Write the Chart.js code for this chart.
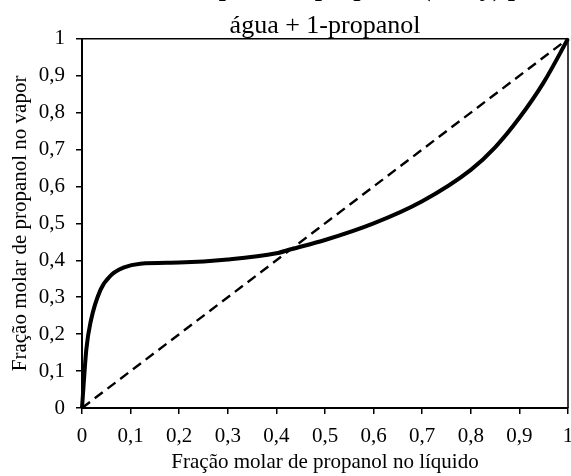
<!DOCTYPE html>
<html>
<head>
<meta charset="utf-8">
<script src="https://cdn.jsdelivr.net/npm/chart.js@4/dist/chart.umd.min.js"></script>
<style>
html,body{margin:0;padding:0;width:571px;height:476px;overflow:hidden;background:#fff;}
#wrap{position:absolute;left:0;top:-25px;width:578px;height:501px;}
</style>
</head>
<body>
<div id="wrap"><canvas id="c"></canvas></div>
<script>
// Data
const liquidX = [0, 0.009, 0.018, 0.038, 0.06, 0.085, 0.12, 0.2, 0.3, 0.4, 0.43, 0.5, 0.6, 0.7, 0.8, 0.85, 0.9, 0.95, 1];
const vaporY  = [0, 0.16, 0.235, 0.32, 0.36, 0.38, 0.391, 0.394, 0.402, 0.419, 0.43, 0.455, 0.50, 0.56, 0.645, 0.706, 0.786, 0.882, 1.0];
const diagX = [0, 1];
const diagY = [0, 1];
const tickValues = [0, 0.1, 0.2, 0.3, 0.4, 0.5, 0.6, 0.7, 0.8, 0.9, 1];
const tickLabels = ['0', '0,1', '0,2', '0,3', '0,4', '0,5', '0,6', '0,7', '0,8', '0,9', '1'];
const titleLine1 = 'Curva de equilíbrio propanol (x vs y) para';
const titleLine2 = 'água + 1-propanol';
const xTitle = 'Fração molar de propanol no líquido';
const yTitle = 'Fração molar de propanol no vapor';

const FONT = "'Liberation Serif', 'Times New Roman', serif";

function fmt(v) {
  const i = tickValues.findIndex(t => Math.abs(t - v) < 1e-6);
  return i >= 0 ? tickLabels[i] : '';
}

// center the title lines over the plot area, and draw the top/right frame
const framePlugin = {
  id: 'frame',
  afterLayout(chart) {
    const a = chart.chartArea;
    chart.boxes.forEach(b => {
      if (b.position === 'top' && !b.axis) {
        b.left = a.left;
        b.right = a.right;
      }
    });
  },
  afterDatasetsDraw(chart) {
    const {ctx, chartArea: a} = chart;
    ctx.save();
    ctx.strokeStyle = '#000';
    ctx.lineWidth = 1.5;
    ctx.beginPath();
    ctx.moveTo(a.left, a.top);
    ctx.lineTo(a.right, a.top);
    ctx.lineTo(a.right, a.bottom);
    ctx.stroke();
    ctx.restore();
  }
};

new Chart(document.getElementById('c'), {
  type: 'scatter',
  data: {
    datasets: [
      {
        label: 'y vs x',
        data: liquidX.map((x, i) => ({x: x, y: vaporY[i]})),
        showLine: true,
        borderColor: '#000',
        borderWidth: 4,
        pointRadius: 0,
        cubicInterpolationMode: 'monotone',
        clip: false
      },
      {
        label: 'y = x',
        data: diagX.map((x, i) => ({x: x, y: diagY[i]})),
        showLine: true,
        borderColor: '#000',
        borderWidth: 2.4,
        borderDash: [10, 6],
        pointRadius: 0,
        clip: false
      }
    ]
  },
  options: {
    responsive: true,
    maintainAspectRatio: false,
    animation: false,
    layout: {padding: {left: 0, right: 10, top: 0, bottom: 0}},
    plugins: {
      legend: {display: false},
      tooltip: {enabled: false},
      title: {
        display: true,
        text: titleLine1,
        color: '#000',
        font: {family: FONT, size: 26, weight: 'bold', lineHeight: 1.1},
        padding: {top: 0, bottom: 9.2}
      },
      subtitle: {
        display: true,
        text: titleLine2,
        color: '#000',
        font: {family: FONT, size: 26, weight: 'normal', lineHeight: 1},
        padding: {top: 0, bottom: 0}
      }
    },
    scales: {
      x: {
        type: 'linear',
        min: 0, max: 1,
        afterBuildTicks(s) { s.ticks = tickValues.map(v => ({value: v})); },
        afterFit(s) { s.height = 68; s.paddingRight = 0; s.paddingLeft = 0; },
        ticks: {
          callback: v => fmt(v),
          color: '#000',
          font: {family: FONT, size: 21},
          padding: 10,
          maxRotation: 0,
          autoSkip: false
        },
        grid: {display: true, drawOnChartArea: false, drawTicks: true, tickLength: 6, color: '#000', lineWidth: 1.5},
        border: {display: true, color: '#000', width: 2},
        title: {
          display: true,
          text: xTitle,
          color: '#000',
          font: {family: FONT, size: 21},
          padding: {top: 0, bottom: 1.4}
        }
      },
      y: {
        type: 'linear',
        min: 0, max: 1,
        afterBuildTicks(s) { s.ticks = tickValues.map(v => ({value: v})); },
        afterFit(s) { s.width = 82; },
        ticks: {
          callback: v => fmt(v),
          color: '#000',
          font: {family: FONT, size: 21},
          padding: 11,
          autoSkip: false
        },
        grid: {display: true, drawOnChartArea: false, drawTicks: true, tickLength: 6, color: '#000', lineWidth: 1.5},
        border: {display: true, color: '#000', width: 2},
        title: {
          display: true,
          text: yTitle,
          color: '#000',
          font: {family: FONT, size: 21},
          padding: {top: 8, bottom: 0}
        }
      }
    }
  },
  plugins: [framePlugin]
});
</script>
</body>
</html>
